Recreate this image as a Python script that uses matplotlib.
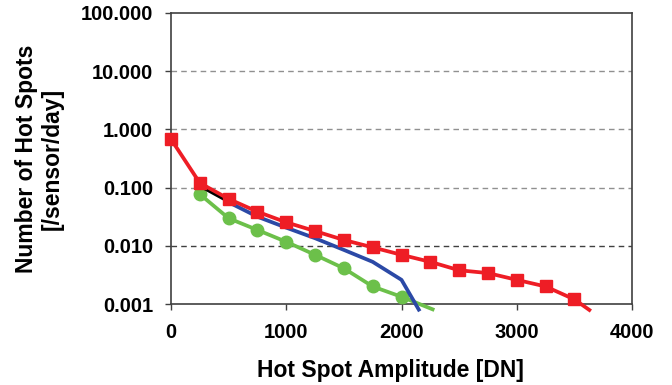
import matplotlib.pyplot as plt
import numpy as np

# hot spot rates
red_x = [0, 250, 500, 750, 1000, 1250, 1500, 1750, 2000, 2250, 2500, 2750, 3000, 3250, 3500]
red_y = [0.68, 0.12, 0.064, 0.0385, 0.0253, 0.0179, 0.0126, 0.0094, 0.0070, 0.0053,
         0.0038, 0.0034, 0.0026, 0.0020, 0.0012]
red_tail_x = [3500, 3630]
red_tail_y = [0.0012, 0.00079]

green_x = [250, 500, 750, 1000, 1250, 1500, 1750, 2000]
green_y = [0.077, 0.0297, 0.0187, 0.0117, 0.0070, 0.0041, 0.0020, 0.00133]
green_tail_x = [2000, 2270]
green_tail_y = [0.00133, 0.00081]

blue_x = [500, 750, 1000, 1250, 1500, 1750, 2000, 2150]
blue_y = [0.056, 0.0316, 0.0205, 0.0135, 0.0085, 0.0053, 0.0026, 0.00080]

black_x = [250, 500]
black_y = [0.108, 0.058]

yticks = [0.001, 0.01, 0.1, 1, 10, 100]
ytick_labels = ["0.001", "0.010", "0.100", "1.000", "10.000", "100.000"]
xticks = [0, 1000, 2000, 3000, 4000]

plt.rcParams['font.family'] = ['Liberation Sans', 'DejaVu Sans']
plt.rcParams['font.weight'] = 'bold'

fig = plt.figure(figsize=(6.72, 3.85), dpi=100)
ax = fig.add_axes([171 / 672, 1 - 304 / 385, (632 - 171) / 672, (304 - 13) / 385])

ax.set_yscale('log')
ax.set_ylim(0.001, 100)
ax.set_xlim(0, 4000)

for v in [0.1, 1, 10]:
    ax.axhline(v, color='#909090', lw=1, ls=(0, (4, 3)), zorder=1)
ax.axhline(0.01, color='#404040', lw=1, ls=(0, (4, 3)), zorder=1)

red = '#EE1D25'
green = '#6CC04A'
blue = '#2B49A6'

ax.plot(green_tail_x, green_tail_y, color=green, lw=2.7, clip_on=False, zorder=3)
ax.plot(green_x, green_y, color=green, lw=2.7, marker='o', ms=9, clip_on=False, zorder=3)
ax.plot(blue_x, blue_y, color=blue, lw=2.7, clip_on=False, zorder=4)
ax.plot(black_x, black_y, color='black', lw=2.7, clip_on=False, zorder=4)
ax.plot(red_tail_x, red_tail_y, color=red, lw=2.7, clip_on=False, zorder=5)
ax.plot(red_x, red_y, color=red, lw=2.7, marker='s', ms=8.5, clip_on=False, zorder=5)

ax.set_yticks(yticks)
ax.set_yticklabels(ytick_labels)
ax.minorticks_off()
ax.set_xticks(xticks)
ax.tick_params(labelsize=14.5, direction='out', length=4, width=1, colors='#404040',
               labelcolor='black')
ax.tick_params(axis='y', pad=9)
ax.tick_params(axis='x', pad=10)
for s in ax.spines.values():
    s.set_color('#404040')
    s.set_linewidth(1.2)

ax.set_xlabel("Hot Spot Amplitude [DN]", fontsize=16.5, fontweight='bold', labelpad=12)
ax.xaxis.label.set_x(0.475)
ax.set_ylabel("Number of Hot Spots\n[/sensor/day]", fontsize=16.5, fontweight='bold',
              labelpad=12, linespacing=1.15)

fig.savefig("out.png", dpi=100)
